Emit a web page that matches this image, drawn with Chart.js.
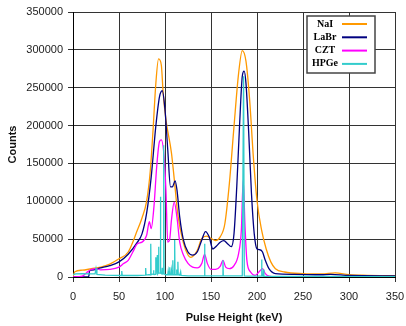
<!DOCTYPE html>
<html>
<head>
<meta charset="utf-8">
<script src="https://cdn.jsdelivr.net/npm/chart.js@4"></script>
<style>
  html, body { margin: 0; padding: 0; background: #fff; }
  #wrap { width: 406px; height: 326px; }
</style>
</head>
<body>
<div id="wrap"><canvas id="spectrum" width="406" height="326"></canvas></div>
<script>
const xTicks = [0, 50, 100, 150, 200, 250, 300, 350];
const yTicks = [0, 50000, 100000, 150000, 200000, 250000, 300000, 350000];

const naiKeV = [0, 2, 10, 20, 30, 40, 50, 60, 70, 75, 80, 84, 87, 90, 93, 96, 98, 101, 107, 110, 114, 120, 125, 128, 135, 140, 145, 150, 155, 160, 165, 170, 175, 180, 184, 188, 192, 196, 200, 205, 210, 215, 220, 230, 250, 270, 285, 300, 320, 350];
const naiCounts = [0, 7000, 9000, 11000, 13000, 17000, 24000, 33000, 62000, 78000, 100000, 140000, 194000, 255000, 288000, 280000, 243000, 208000, 164000, 130000, 82000, 45000, 29000, 26000, 35000, 51000, 54000, 51000, 48000, 53000, 70000, 124000, 199000, 269000, 299000, 285000, 234000, 159000, 101000, 62000, 37000, 20000, 11000, 6600, 4400, 4000, 5500, 3000, 2200, 1800];

const labrKeV = [0, 17, 18, 20, 30, 40, 50, 60, 70, 75, 80, 85, 90, 94, 97, 100, 103, 106, 108, 111, 113, 116, 120, 125, 130, 135, 140, 144, 148, 152, 156, 160, 164, 168, 172, 175, 178, 181, 184, 186, 188, 191, 194, 197, 200, 203, 206, 209, 213, 220, 240, 270, 280, 300, 350];
const labrCounts = [0, 0, 8000, 9000, 12000, 15000, 20000, 30000, 46000, 57000, 84000, 132000, 199000, 238000, 246000, 221000, 168000, 119000, 119000, 127000, 115000, 79000, 49000, 33000, 29000, 33000, 49000, 60000, 53000, 37000, 41000, 46000, 48000, 44000, 40000, 57000, 119000, 199000, 265000, 272000, 256000, 190000, 110000, 57000, 37000, 36000, 33000, 22000, 11000, 4400, 3500, 3000, 3500, 2000, 1500];

const cztKeV = [0, 10, 15, 20, 25, 30, 40, 50, 55, 60, 65, 70, 75, 80, 83, 85, 88, 91, 94, 96, 99, 101, 103, 105, 107, 110, 113, 116, 120, 125, 130, 135, 140, 143, 146, 150, 155, 160, 163, 166, 170, 175, 180, 183, 185, 187, 189, 193, 198, 203, 206, 209, 213, 220, 350];
const cztCounts = [0, 1000, 6000, 10000, 11000, 9500, 10000, 13000, 17700, 22000, 33000, 44000, 46000, 55000, 73000, 64000, 93000, 146000, 179000, 181000, 159000, 115000, 46000, 49000, 75000, 99000, 79000, 46000, 29000, 18000, 13000, 12000, 18000, 30000, 18000, 10000, 10000, 14000, 22000, 13000, 11000, 15000, 31000, 62000, 128000, 66000, 22000, 6600, 2200, 8000, 11000, 4400, 1000, 300, 300];

const hpgeKeV = [0, 3, 10, 20, 24, 25, 26, 35, 52.5, 53, 53.5, 70, 78.6, 79, 79.4, 82, 84.1, 84.5, 84.9, 87, 87.5, 88, 89.6, 90, 90.4, 91.3, 91.7, 92.1, 92.6, 93, 93.4, 94.6, 95, 95.4, 96.5, 97, 97.5, 98.2, 98.6, 99, 101, 103, 103.5, 104, 104.6, 105, 105.4, 106.5, 107, 107.5, 108.1, 108.5, 108.9, 110.1, 110.5, 110.9, 112, 112.5, 113, 113.6, 114, 114.4, 116, 117, 117.5, 125, 142.6, 143, 143.4, 162.6, 163, 163.4, 184, 184.6, 185.4, 186.2, 190, 204.6, 205, 205.4, 206.5, 207, 207.5, 230, 350];
const hpgeCounts = [3000, 4000, 4500, 4000, 4000, 11000, 3500, 2500, 2000, 8000, 2000, 2000, 2500, 12000, 2500, 3000, 3000, 44000, 3000, 4000, 9000, 3500, 3500, 26000, 4000, 4000, 29000, 4000, 5000, 40000, 5000, 5000, 106000, 5000, 4000, 12000, 4000, 4000, 174000, 4000, 3000, 3000, 8000, 3000, 3000, 13000, 3000, 3000, 9000, 3000, 3000, 22000, 3000, 3000, 49000, 3000, 3000, 10000, 3000, 3000, 20000, 3000, 2500, 7000, 2000, 1500, 1500, 44000, 1500, 1500, 22000, 1500, 1500, 1500, 265000, 1500, 1200, 1200, 23000, 1200, 1200, 10000, 1000, 800, 600];

const labels = ['NaI', 'LaBr', 'CZT', 'HPGe'];
const colors = ['#FF9900', '#000080', '#FF00FF', '#33CCCC'];

function toPoints(xs, ys) {
  return xs.map((x, i) => ({ x: x, y: ys[i] }));
}

const FONT = "'Liberation Sans', Arial, sans-serif";

// legend drawn as a framed box in the top right, like the original
const boxLegend = {
  id: 'boxLegend',
  afterDraw(chart) {
    const ctx = chart.ctx;
    const x = 307, y = 16, w = 68, h = 57;
    ctx.save();
    ctx.fillStyle = '#fff';
    ctx.fillRect(x, y, w, h);
    ctx.strokeStyle = '#444';
    ctx.lineWidth = 1.5;
    ctx.strokeRect(x, y, w, h);
    ctx.font = "bold 10px 'Liberation Serif', 'Times New Roman', serif";
    ctx.textAlign = 'center';
    ctx.textBaseline = 'middle';
    labels.forEach((lab, i) => {
      const ry = y + 8 + i * 13.3;
      ctx.fillStyle = '#000';
      ctx.fillText(lab, x + 18, ry);
      ctx.strokeStyle = colors[i];
      ctx.lineWidth = 2;
      ctx.beginPath();
      ctx.moveTo(x + 35, ry);
      ctx.lineTo(x + 60, ry);
      ctx.stroke();
    });
    ctx.restore();
  }
};

const smooth = { tension: 0.4, cubicInterpolationMode: 'monotone' };

new Chart(document.getElementById('spectrum'), {
  type: 'line',
  data: {
    datasets: [
      Object.assign({ label: labels[0], data: toPoints(naiKeV, naiCounts), borderColor: colors[0], order: 3 }, smooth),
      Object.assign({ label: labels[1], data: toPoints(labrKeV, labrCounts), borderColor: colors[1], order: 2 }, smooth),
      Object.assign({ label: labels[2], data: toPoints(cztKeV, cztCounts), borderColor: colors[2], order: 1 }, smooth),
      { label: labels[3], data: toPoints(hpgeKeV, hpgeCounts), borderColor: colors[3], order: 0, tension: 0 }
    ]
  },
  options: {
    responsive: false,
    animation: false,
    events: [],
    elements: {
      point: { radius: 0 },
      line: { borderWidth: 1.3, fill: false }
    },
    layout: { padding: { top: 12, right: 11, left: 0, bottom: 0 } },
    plugins: {
      legend: { display: false },
      tooltip: { enabled: false }
    },
    scales: {
      x: {
        type: 'linear',
        min: 0,
        max: 350,
        afterBuildTicks: s => { s.ticks = xTicks.map(v => ({ value: v })); },
        afterFit: s => { s.height = 49; s.paddingLeft = 0; s.paddingRight = 0; },
        grid: { color: '#333', lineWidth: 1, tickLength: 5 },
        border: { color: '#000', width: 1 },
        ticks: { color: '#222', padding: 8, font: { family: FONT, size: 11 }, callback: v => String(v) },
        title: {
          display: true,
          text: 'Pulse Height (keV)',
          color: '#111',
          padding: { top: 0, bottom: 1 },
          font: { family: FONT, size: 11, weight: 'bold' }
        }
      },
      y: {
        min: 0,
        max: 350000,
        afterBuildTicks: s => { s.ticks = yTicks.map(v => ({ value: v })); },
        afterFit: s => { s.width = 73; s.paddingTop = 0; s.paddingBottom = 0; },
        grid: { color: '#333', lineWidth: 1, tickLength: 5 },
        border: { color: '#000', width: 1 },
        ticks: { color: '#222', padding: 5, font: { family: FONT, size: 11 }, callback: v => String(v) },
        title: {
          display: true,
          text: 'Counts',
          color: '#111',
          padding: { top: 6, bottom: 0 },
          font: { family: FONT, size: 11, weight: 'bold' }
        }
      }
    }
  },
  plugins: [boxLegend]
});
</script>
</body>
</html>
